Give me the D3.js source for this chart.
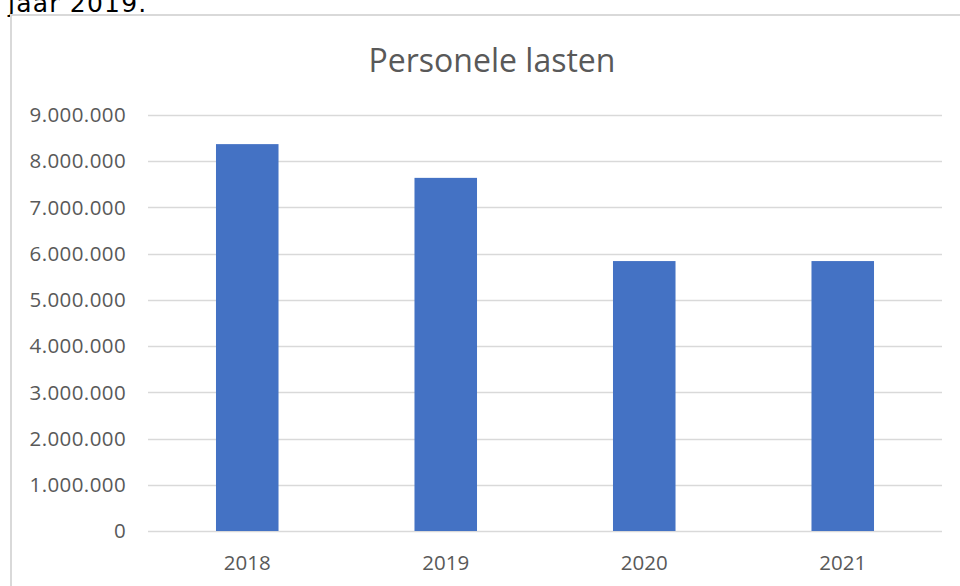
<!DOCTYPE html>
<html>
<head>
<meta charset="utf-8">
<script src="https://cdn.jsdelivr.net/npm/d3@7"></script>
<style>
  html, body { margin: 0; padding: 0; background: #fff; overflow: hidden; }
  svg { display: block; }
</style>
</head>
<body>
<svg id="chart" width="960" height="586"></svg>
<script>
  // data
  var years = ["2018", "2019", "2020", "2021"];
  var lasten = [8370000, 7640000, 5840000, 5840000];
  var yTicks = [0, 1000000, 2000000, 3000000, 4000000, 5000000, 6000000, 7000000, 8000000, 9000000];

  var svg = d3.select("#chart");
  var grey = "#595959";
  var fontFam = "'Open Sans', 'Noto Sans', sans-serif";

  // clipped line of text above the chart
  svg.append("text")
    .attr("x", 8)
    .attr("y", 12)
    .style("font-family", "'DejaVu Sans', sans-serif")
    .style("font-size", "25px")
    .style("letter-spacing", "1.2px")
    .style("fill", "#000")
    .text("jaar 2019.");

  // chart frame
  svg.append("path")
    .attr("d", "M11,586 L11,15 L960,15")
    .style("fill", "none")
    .style("stroke", "#d9d9d9")
    .style("stroke-width", 2);

  var plot = { left: 148, right: 942, top: 115, bottom: 531 };

  var x = d3.scaleBand()
    .domain(years)
    .range([plot.left, plot.right])
    .padding(0);

  var y = d3.scaleLinear()
    .domain([0, 9000000])
    .range([plot.bottom, plot.top]);

  var fmt = function(d) {
    return d3.format(",")(d).replace(/,/g, ".");
  };

  // gridlines
  svg.append("g")
    .selectAll("line")
    .data(yTicks)
    .enter()
    .append("line")
    .attr("x1", plot.left)
    .attr("x2", plot.right)
    .attr("y1", function(d) { return Math.round(y(d)) + 0.5; })
    .attr("y2", function(d) { return Math.round(y(d)) + 0.5; })
    .style("stroke", "#d9d9d9")
    .style("stroke-width", 1.6);

  // y labels
  svg.append("g")
    .selectAll("text")
    .data(yTicks)
    .enter()
    .append("text")
    .attr("x", 126)
    .attr("y", function(d) { return y(d); })
    .attr("dy", "0.35em")
    .attr("text-anchor", "end")
    .style("font-family", fontFam)
    .style("font-size", "20.5px")
    .style("letter-spacing", "0.4px")
    .style("fill", grey)
    .text(fmt);

  // bars
  var barW = x.bandwidth() * 0.315;
  svg.append("g")
    .selectAll("rect")
    .data(lasten)
    .enter()
    .append("rect")
    .attr("x", function(d, i) { return x(years[i]) + x.bandwidth() / 2 - barW / 2; })
    .attr("y", function(d) { return y(d); })
    .attr("width", barW)
    .attr("height", function(d) { return y(0) - y(d); })
    .style("fill", "#4472c4");

  // x labels
  svg.append("g")
    .selectAll("text")
    .data(years)
    .enter()
    .append("text")
    .attr("x", function(d) { return x(d) + x.bandwidth() / 2; })
    .attr("y", 570)
    .attr("text-anchor", "middle")
    .style("font-family", fontFam)
    .style("font-size", "20.5px")
    .style("fill", grey)
    .text(function(d) { return d; });

  // title
  svg.append("text")
    .attr("x", 492)
    .attr("y", 72)
    .attr("text-anchor", "middle")
    .style("font-family", fontFam)
    .style("font-size", "32px")
    .style("fill", grey)
    .text("Personele lasten");
</script>
</body>
</html>
